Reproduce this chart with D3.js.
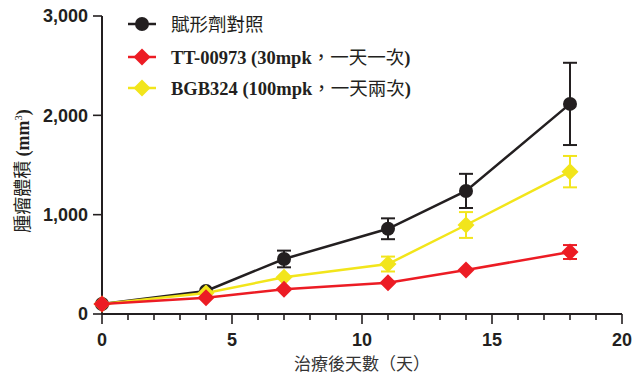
<!DOCTYPE html>
<html>
<head>
<meta charset="utf-8">
<script src="https://cdn.jsdelivr.net/npm/d3@7"></script>
<style>
  html, body { margin: 0; padding: 0; background: #fff; }
  svg { display: block; }
</style>
</head>
<body>
<svg id="chart" width="632" height="378"></svg>
<script>
// Tumour volume over days after treatment, three groups (mean ± error)
const days = [0, 4, 7, 11, 14, 18];

const seriesNames = ["賦形劑對照", "TT-00973 (30mpk，一天一次)", "BGB324 (100mpk，一天兩次)"];

const vehicleMean = [100, 232, 554, 858, 1239, 2115];
const vehicleErr  = [0, 0, 84, 105, 172, 414];

const ttMean = [100, 164, 249, 315, 443, 624];
const ttErr  = [0, 0, 0, 0, 0, 70];

const bgbMean = [100, 211, 370, 503, 896, 1433];
const bgbErr  = [0, 0, 0, 75, 130, 158];

const xTicks = [0, 5, 10, 15, 20];
const yTicks = [0, 1000, 2000, 3000];

const series = [
  { name: seriesNames[0], mean: vehicleMean, err: vehicleErr, color: "#231f20", shape: "circle" },
  { name: seriesNames[2], mean: bgbMean, err: bgbErr, color: "#f2e51b", shape: "diamond" },
  { name: seriesNames[1], mean: ttMean, err: ttErr, color: "#ec1c24", shape: "diamond" }
];
const legendOrder = [0, 2, 1];

const svg = d3.select("#chart");
const x = d3.scaleLinear().domain([0, 20]).range([102, 622]);
const y = d3.scaleLinear().domain([0, 3000]).range([314, 16]);

const axisColor = "#231f20";
const tickFont = "'Liberation Sans', Arial, sans-serif";
const cjkFont = "'Noto Sans CJK TC', sans-serif";
const serifFont = "'Liberation Serif', 'Times New Roman', serif";

// X axis
const xAxis = svg.append("g").attr("transform", `translate(0,${y(0)})`);
xAxis.append("line").attr("x1", x(0)).attr("x2", x(20))
  .attr("stroke", axisColor).attr("stroke-width", 2);
d3.range(0, 21).forEach(d => {
  const major = d % 5 === 0;
  xAxis.append("line").attr("x1", x(d)).attr("x2", x(d))
    .attr("y1", 0).attr("y2", major ? 10 : 6)
    .attr("stroke", axisColor).attr("stroke-width", 1.6);
});
xAxis.selectAll("text.tick").data(xTicks).enter().append("text")
  .attr("x", d => x(d)).attr("y", 32)
  .attr("text-anchor", "middle")
  .attr("font-family", tickFont).attr("font-weight", "bold")
  .attr("font-size", 18).attr("fill", axisColor)
  .text(d => d);

// Y axis
const yAxis = svg.append("g").attr("transform", `translate(${x(0)},0)`);
yAxis.append("line").attr("y1", y(0)).attr("y2", y(3000))
  .attr("stroke", axisColor).attr("stroke-width", 2);
yTicks.forEach(v => {
  yAxis.append("line").attr("x1", -9).attr("x2", 0).attr("y1", y(v)).attr("y2", y(v))
    .attr("stroke", axisColor).attr("stroke-width", 1.6);
});
yAxis.selectAll("text.tick").data(yTicks).enter().append("text")
  .attr("x", -14).attr("y", d => y(d)).attr("dy", "0.36em")
  .attr("text-anchor", "end")
  .attr("font-family", tickFont).attr("font-weight", "bold")
  .attr("font-size", 18).attr("fill", axisColor)
  .text(d3.format(","));

// Axis titles
svg.append("text")
  .attr("x", 362).attr("y", 370)
  .attr("text-anchor", "middle")
  .attr("font-family", cjkFont)
  .attr("font-size", 17).attr("fill", "#333")
  .text("治療後天數（天）");

const yTitle = svg.append("text")
  .attr("transform", "translate(29,171) rotate(-90)")
  .attr("text-anchor", "middle")
  .attr("fill", "#231f20");
yTitle.append("tspan")
  .attr("font-family", cjkFont)
  .attr("font-size", 18).text("腫瘤體積 ");
yTitle.append("tspan")
  .attr("font-family", serifFont).attr("font-weight", "bold")
  .attr("font-size", 18).text("(mm");
yTitle.append("tspan")
  .attr("font-family", serifFont).attr("font-size", 10.5)
  .attr("dy", -7).text("3");
yTitle.append("tspan")
  .attr("font-family", serifFont).attr("font-weight", "bold")
  .attr("font-size", 18).attr("dy", 7).text(")");

// Markers
function drawMarker(g, shape, color, cx, cy) {
  if (shape === "circle") {
    g.append("circle").attr("cx", cx).attr("cy", cy).attr("r", 7)
      .attr("fill", color);
  } else {
    const s = 8.5;
    g.append("path")
      .attr("d", `M${cx},${cy - s}L${cx + s},${cy}L${cx},${cy + s}L${cx - s},${cy}Z`)
      .attr("fill", color);
  }
}

const line = d3.line().x((d, i) => x(days[i])).y(d => y(d));

series.forEach(s => {
  const g = svg.append("g");
  // error bars
  s.mean.forEach((m, i) => {
    const e = s.err[i];
    if (!e) return;
    const cx = x(days[i]);
    g.append("line").attr("x1", cx).attr("x2", cx).attr("y1", y(m - e)).attr("y2", y(m + e))
      .attr("stroke", s.color).attr("stroke-width", 2);
    [m - e, m + e].forEach(v => {
      g.append("line").attr("x1", cx - 7).attr("x2", cx + 7).attr("y1", y(v)).attr("y2", y(v))
        .attr("stroke", s.color).attr("stroke-width", 2);
    });
  });
  g.append("path").datum(s.mean).attr("d", line)
    .attr("fill", "none").attr("stroke", s.color).attr("stroke-width", 2.5);
  s.mean.forEach((m, i) => drawMarker(g, s.shape, s.color, x(days[i]), y(m)));
});

// Legend: Latin parts in bold serif, CJK parts in sans
const legendRows = [24, 57, 88];
legendOrder.forEach((si, r) => {
  const s = series[si];
  const ly = legendRows[r];
  const g = svg.append("g");
  g.append("line").attr("x1", 128).attr("x2", 156).attr("y1", ly).attr("y2", ly)
    .attr("stroke", s.color).attr("stroke-width", 2.5);
  drawMarker(g, s.shape, s.color, 142, ly);
  const t = g.append("text").attr("x", 171).attr("y", ly).attr("dy", "0.36em")
    .attr("fill", "#231f20").attr("font-size", 18.5);
  const parts = s.name.split(/([\u3000-\u9fff\uff00-\uffef]+)/).filter(p => p.length);
  parts.forEach(p => {
    const isCjk = /[\u3000-\u9fff\uff00-\uffef]/.test(p);
    t.append("tspan")
      .attr("font-family", isCjk ? cjkFont : serifFont)
      .attr("font-weight", isCjk ? "normal" : "bold")
      .text(p);
  });
});
</script>
</body>
</html>
